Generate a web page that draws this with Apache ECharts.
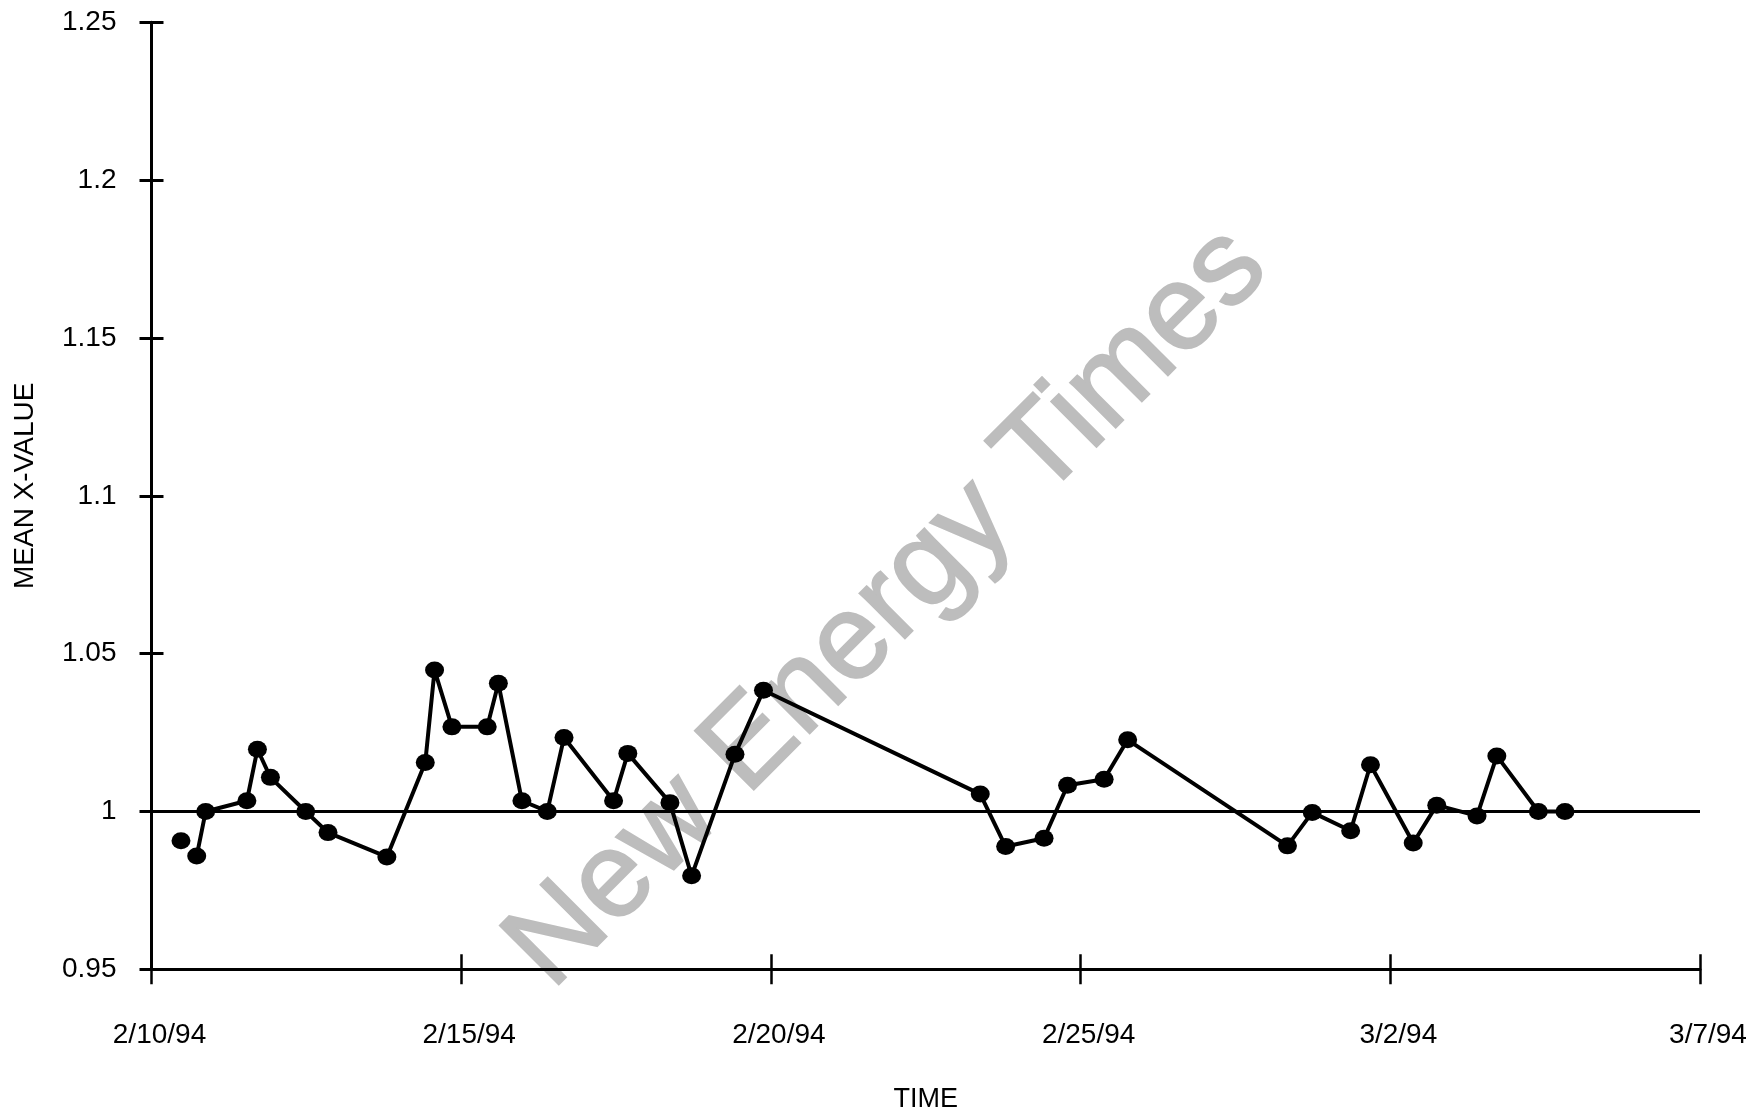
<!DOCTYPE html>
<html>
<head>
<meta charset="utf-8">
<script src="https://cdn.jsdelivr.net/npm/echarts@6/dist/echarts.min.js"></script>
<style>
  html, body { margin: 0; padding: 0; background: #fff; }
  #chart { width: 1747px; height: 1110px; }
</style>
</head>
<body>
<div id="chart"></div>
<script>
// Days elapsed since 2/10/94 for each measurement
const days = [0.476, 0.73, 0.875, 1.54, 1.71, 1.92, 2.49, 2.85, 3.80, 4.42,
              4.57, 4.85, 5.42, 5.60, 5.98, 6.39, 6.66, 7.46, 7.69, 8.37,
              8.72, 9.42, 9.88, 13.38, 13.79, 14.41, 14.79, 15.38, 15.76, 18.34,
              18.74, 19.36, 19.68, 20.37, 20.75, 21.40, 21.72, 22.39, 22.82];
// Mean X-value at each measurement
const meanX = [0.9907, 0.9859, 1.000, 1.0034, 1.0197, 1.0108, 1.000, 0.9933, 0.9856, 1.0155,
               1.0448, 1.0268, 1.0268, 1.0406, 1.0034, 1.000, 1.0234, 1.0034, 1.0184, 1.0028,
               0.9796, 1.0181, 1.0384, 1.0055, 0.9889, 0.9915, 1.0083, 1.0102, 1.0227, 0.9891,
               0.9997, 0.9939, 1.0148, 0.990, 1.002, 0.9986, 1.0176, 1.000, 1.000];
// Number of leading points that are not joined by the line
const unjoinedCount = 1;
// X tick labels (every 5 days from 2/10/94)
const xTickLabels = ['2/10/94', '2/15/94', '2/20/94', '2/25/94', '3/2/94', '3/7/94'];
const xTickStep = 5;
// Y axis
const yMin = 0.95, yMax = 1.25, yStep = 0.05;
const yTickLabels = ['0.95', '1', '1.05', '1.1', '1.15', '1.2', '1.25'];
const referenceValue = 1;
const xTitle = 'TIME';
const yTitle = 'MEAN X-VALUE';
const watermark = 'New Energy Times';

const FONT = '"Liberation Sans", Arial, sans-serif';
const pts = days.map((d, i) => [d, meanX[i]]);
const xMax = xTickStep * (xTickLabels.length - 1);

const chart = echarts.init(document.getElementById('chart'), null, { renderer: 'canvas' });

const baseX = {
  type: 'value', min: 0, max: xMax, interval: xTickStep, position: 'bottom',
  splitLine: { show: false }
};
const baseY = {
  type: 'value', min: yMin, max: yMax, interval: yStep, position: 'left',
  splitLine: { show: false }
};

chart.setOption({
  animation: false,
  backgroundColor: '#ffffff',
  grid: { left: 151.5, right: 47, top: 22.3, bottom: 140.7, containLabel: false, outerBoundsMode: 'none' },
  xAxis: [
    Object.assign({}, baseX, {
      name: xTitle, nameLocation: 'middle', nameGap: 117,
      nameTextStyle: { fontFamily: FONT, fontSize: 27, color: '#000' },
      axisLine: { show: true, onZero: false, lineStyle: { color: '#000', width: 3 } },
      axisTick: { show: true, inside: false, length: 15, lineStyle: { color: '#000', width: 2.5 } },
      axisLabel: {
        show: true, margin: 52, fontFamily: FONT, fontSize: 28, color: '#000',
        padding: [0, 0, 0, 16],
        formatter: v => xTickLabels[Math.round(v / xTickStep)] || ''
      }
    }),
    Object.assign({}, baseX, {
      axisLine: { show: false, onZero: false },
      axisTick: { show: true, inside: true, length: 15, lineStyle: { color: '#000', width: 2.5 } },
      axisLabel: { show: false }
    })
  ],
  yAxis: [
    Object.assign({}, baseY, {
      name: yTitle, nameLocation: 'middle', nameGap: 112, nameRotate: 90,
      nameTextStyle: { fontFamily: FONT, fontSize: 28, color: '#000', padding: [0, 0, 0, 20] },
      axisLine: { show: true, onZero: false, lineStyle: { color: '#000', width: 3 } },
      axisTick: { show: true, inside: false, length: 12, lineStyle: { color: '#000', width: 3 } },
      axisLabel: {
        show: true, margin: 35, fontFamily: FONT, fontSize: 28, color: '#000',
        formatter: v => yTickLabels[Math.round((v - yMin) / yStep)] || ''
      }
    }),
    Object.assign({}, baseY, {
      axisLine: { show: false, onZero: false },
      axisTick: { show: true, inside: true, length: 12, lineStyle: { color: '#000', width: 3 } },
      axisLabel: { show: false }
    })
  ],
  graphic: [{
    type: 'text', x: 888, y: 608, rotation: Math.PI / 4, z: -10, silent: true,
    style: {
      text: watermark, font: '121px ' + FONT, fill: '#bdbdbd',
      stroke: '#bdbdbd', lineWidth: 2,
      textAlign: 'center', textVerticalAlign: 'middle'
    }
  }],
  series: [
    {
      type: 'scatter', xAxisIndex: 0, yAxisIndex: 0,
      data: pts.slice(0, unjoinedCount),
      symbol: 'circle', symbolSize: [19, 17],
      itemStyle: { color: '#000', opacity: 1 }, z: 3
    },
    {
      type: 'line', xAxisIndex: 0, yAxisIndex: 0,
      data: pts.slice(unjoinedCount),
      symbol: 'circle', symbolSize: [19, 17], showSymbol: true,
      itemStyle: { color: '#000', opacity: 1 },
      lineStyle: { color: '#000', width: 4 },
      z: 3,
      markLine: {
        silent: true, symbol: 'none', animation: false,
        label: { show: false },
        lineStyle: { color: '#000', width: 3, type: 'solid' },
        emphasis: { disabled: true },
        data: [{ yAxis: referenceValue }]
      }
    }
  ]
});
</script>
</body>
</html>
